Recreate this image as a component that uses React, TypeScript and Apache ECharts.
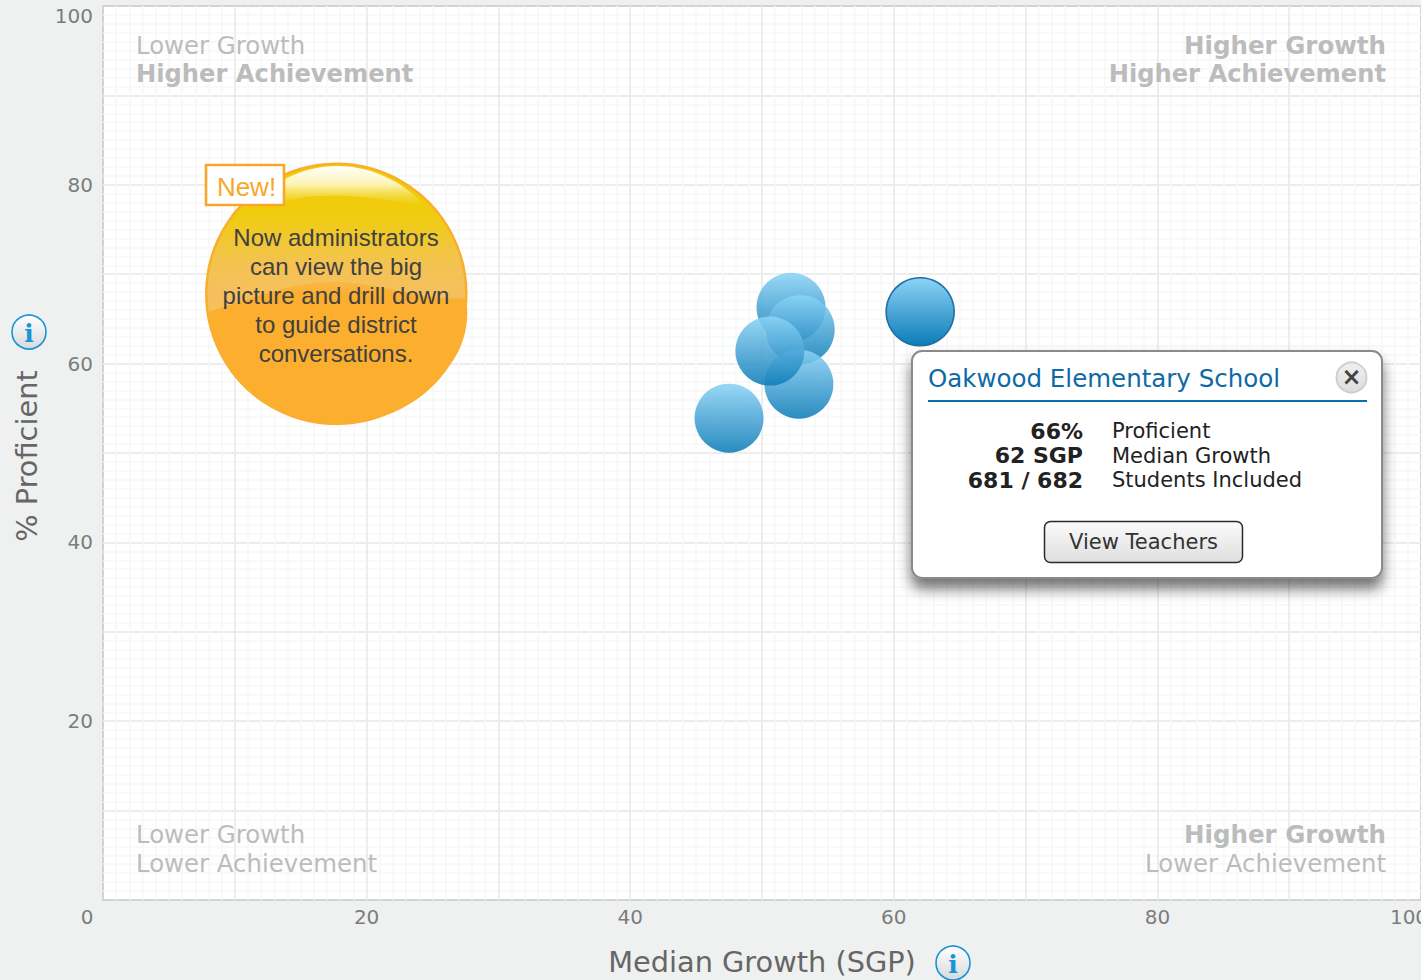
import React, { useEffect, useRef } from "react";
import * as echarts from "echarts";

const FONT = '"DejaVu Sans", sans-serif';
const LIGHT_FONT = '"Liberation Sans", Roboto, sans-serif';

// [median growth SGP, % proficient]
const otherSchools = [
  [52.2, 66.3],
  [52.9, 63.8],
  [52.8, 57.7],
  [50.6, 61.4],
  [47.5, 53.9],
];
const selectedSchool = [[62, 65.8]];
const calloutBubble = [[17.7, 67.8]];
const calloutLines = [
  "Now administrators",
  "can view the big",
  "picture and drill down",
  "to guide district",
  "conversations.",
];
const popupTitle = "Oakwood Elementary School";
const popupValues = ["66%", "62 SGP", "681 / 682"];
const popupLabels = ["Proficient", "Median Growth", "Students Included"];

echarts.graphic.registerShape(
  "bubbleWave",
  echarts.graphic.extendPath(
    "M208,312 C250,300 290,281 337,282 C385,283 425,302 466,298 C470,320 465,345 450,365 C425,403 385,423 337,423 C285,423 240,397 219,352 C214,341 210,326 208,312 Z",
    {}
  )
);
echarts.graphic.registerShape(
  "bubbleGloss",
  echarts.graphic.extendPath(
    "M245,219 C262,182 305,166 337,166 C375,166 408,185 426,208 C385,198 340,192 300,198 C278,202 262,213 245,219 Z",
    {}
  )
);

const lg = (stops: [number, string][]) =>
  new echarts.graphic.LinearGradient(
    0,
    0,
    0,
    1,
    stops.map(([offset, color]) => ({ offset, color }))
  );

const txt = (
  x: number,
  y: number,
  text: string,
  fontSize: number,
  fill: string,
  extra: any = {}
) => ({
  type: "text",
  x,
  y,
  z: 100,
  silent: true,
  style: {
    text,
    fontSize,
    fill,
    fontFamily: FONT,
    textVerticalAlign: "middle",
    verticalAlign: "middle",
    align: "left",
    ...extra,
  },
});

const infoIcon = (cx: number, cy: number) => ({
  type: "group",
  z: 100,
  children: [
    {
      type: "circle",
      z: 100,
      shape: { cx, cy, r: 17 },
      style: {
        fill: lg([
          [0, "#ffffff"],
          [1, "#d6dadc"],
        ]),
        stroke: "#1a94d6",
        lineWidth: 1.6,
      },
    },
    txt(cx, cy + 1, "i", 25, "#1a94d6", {
      align: "center",
      fontFamily: '"DejaVu Serif", serif',
      fontWeight: "bold",
    }),
  ],
});

export default function App() {
  const ref = useRef<HTMLDivElement>(null);
  useEffect(() => {
    const chart = echarts.init(ref.current!, undefined, { renderer: "svg" });
    const bubbleFill = lg([
      [0, "#8bd4f6"],
      [0.5, "#4da6d6"],
      [1, "#0c7db6"],
    ]);
    const splitLine = {
      show: true,
      showMinLine: false,
      showMaxLine: false,
      lineStyle: { color: "#eceeee", width: 2 },
    };
    const minorSplitLine = { show: true, lineStyle: { color: "#f6f8f8", width: 1.5 } };
    const fmt = (v: number) => (v % 20 === 0 && v !== 0 ? String(v) : "");
    const tickRich = { fontSize: 20, color: "#7b7d7d", fontFamily: FONT };
    chart.setOption({
      animation: false,
      backgroundColor: "#eff1f0",
      textStyle: { fontFamily: FONT },
      grid: {
        left: 103,
        top: 6,
        width: 1318,
        height: 894,
        show: true,
        containLabel: false,
        outerBoundsMode: "none",
        backgroundColor: "#ffffff",
        borderColor: "#d2d4d4",
        borderWidth: 2,
      },
      xAxis: {
        type: "value",
        min: 0,
        max: 100,
        interval: 10,
        name: "Median Growth (SGP)",
        nameLocation: "middle",
        nameGap: 47,
        nameTextStyle: { fontSize: 28.8, color: "#666", fontFamily: FONT },
        axisLine: { show: false },
        axisTick: { show: false },
        minorTick: { show: false, splitNumber: 10 },
        splitLine,
        minorSplitLine,
        axisLabel: {
          show: true,
          margin: 7,
          fontSize: 20,
          color: "#7b7d7d",
          fontFamily: FONT,
          showMinLabel: true,
          showMaxLabel: true,
          hideOverlap: false,
          formatter: (v: number) =>
            v === 0 ? "{z|0}" : v === 100 ? "{h|100}" : fmt(v),
          rich: {
            z: { ...tickRich, padding: [0, 32, 0, 0] },
            h: { ...tickRich, padding: [0, 24, 0, 0] },
          },
        },
      },
      yAxis: {
        type: "value",
        min: 0,
        max: 100,
        interval: 10,
        name: "% Proficient",
        nameLocation: "middle",
        nameGap: 62,
        nameTextStyle: { fontSize: 28.8, color: "#666", fontFamily: FONT, padding: [0, 6, 0, 0] },
        axisLine: { show: false },
        axisTick: { show: false },
        minorTick: { show: false, splitNumber: 10 },
        splitLine,
        minorSplitLine,
        axisLabel: {
          show: true,
          margin: 10,
          fontSize: 20,
          color: "#7b7d7d",
          fontFamily: FONT,
          verticalAlignMaxLabel: "top",
          formatter: fmt,
        },
      },
      series: [
        {
          type: "scatter",
          name: "Callout",
          data: calloutBubble,
          symbolSize: 260,
          z: 2,
          silent: true,
          itemStyle: {
            opacity: 1,
            borderColor: "#f9ae2c",
            borderWidth: 2.5,
            color: lg([
              [0, "#f0cc00"],
              [0.2, "#f0cc10"],
              [0.38, "#f3c350"],
              [0.5, "#f6bf5e"],
              [1, "#f6bf5e"],
            ]),
          },
        },
        {
          type: "scatter",
          name: "Schools",
          data: otherSchools,
          symbolSize: 69,
          z: 3,
          silent: true,
          itemStyle: { color: bubbleFill, opacity: 0.88 },
        },
        {
          type: "scatter",
          name: "Selected school",
          data: selectedSchool,
          symbolSize: 68,
          z: 3,
          silent: true,
          itemStyle: {
            color: bubbleFill,
            opacity: 1,
            borderColor: "#1c6ea6",
            borderWidth: 1.6,
          },
        },
      ],
      graphic: [
        {
          type: "bubbleWave",
          z: 50,
          silent: true,
          style: {
            fill: lg([
              [0, "rgba(252,174,46,0.45)"],
              [0.09, "rgba(252,174,46,1)"],
              [1, "rgba(252,174,46,1)"],
            ]),
          },
        },
        {
          type: "bubbleGloss",
          z: 51,
          silent: true,
          style: {
            fill: lg([
              [0, "rgba(255,255,255,1)"],
              [0.35, "rgba(255,250,210,0.85)"],
              [0.75, "rgba(238,204,0,0.4)"],
              [1, "rgba(238,204,0,0.2)"],
            ]),
          },
        },
        ...calloutLines.map((line, i) =>
          txt(336, 237 + i * 29.2, line, 24, "#404040", {
            align: "center",
            fontFamily: LIGHT_FONT,
          })
        ),
        {
          type: "rect",
          z: 100,
          shape: { x: 206, y: 165, width: 78, height: 40 },
          style: { fill: "#ffffff", stroke: "#f9a72a", lineWidth: 2.6 },
        },
        txt(246.5, 187, "New!", 26, "#f9a72a", {
          align: "center",
          fontFamily: LIGHT_FONT,
        }),

        txt(136, 45, "Lower Growth", 24.4, "#bcbcbc"),
        txt(136, 74, "Higher Achievement", 24.2, "#bcbcbc", { fontWeight: "bold" }),
        txt(1386, 45, "Higher Growth", 24.5, "#bcbcbc", { align: "right", fontWeight: "bold" }),
        txt(1386, 74, "Higher Achievement", 24.2, "#bcbcbc", { align: "right", fontWeight: "bold" }),
        txt(136, 834, "Lower Growth", 24.4, "#bcbcbc"),
        txt(136, 863, "Lower Achievement", 24.4, "#bcbcbc"),
        txt(1386, 834, "Higher Growth", 24.5, "#bcbcbc", { align: "right", fontWeight: "bold" }),
        txt(1386, 863, "Lower Achievement", 24.4, "#bcbcbc", { align: "right" }),

        infoIcon(29, 332),
        infoIcon(953, 963),

        {
          type: "rect",
          z: 100,
          shape: { x: 912, y: 351, width: 470, height: 227, r: 10 },
          style: {
            fill: "#ffffff",
            stroke: "#8a8a8a",
            lineWidth: 2,
            shadowBlur: 14,
            shadowOffsetX: 0,
            shadowOffsetY: 10,
            shadowColor: "rgba(0,0,0,0.55)",
          },
        },
        txt(928, 378.5, popupTitle, 24.5, "#0e6aa5"),
        {
          type: "line",
          z: 100,
          shape: { x1: 928, y1: 401, x2: 1367, y2: 401 },
          style: { stroke: "#0f6dab", lineWidth: 2 },
        },
        {
          type: "circle",
          z: 100,
          shape: { cx: 1351.5, cy: 377.5, r: 15 },
          style: {
            fill: lg([
              [0, "#f0f0f0"],
              [1, "#dcdcdc"],
            ]),
            stroke: "#cfcfcf",
            lineWidth: 2,
          },
        },
        txt(1351.5, 377, "×", 24, "#444444", { align: "center", fontWeight: "bold" }),
        ...popupValues.map((v, i) =>
          txt(1083, 431 + i * 24.5, v, 22, "#222222", { align: "right", fontWeight: "bold" })
        ),
        ...popupLabels.map((v, i) => txt(1112, 431 + i * 24.5, v, 21, "#222222")),
        {
          type: "rect",
          z: 100,
          shape: { x: 1044.5, y: 521.5, width: 198, height: 41, r: 6 },
          style: {
            fill: lg([
              [0, "#fbfbfb"],
              [1, "#dedede"],
            ]),
            stroke: "#2a2a2a",
            lineWidth: 1.5,
          },
        },
        txt(1143.5, 541.5, "View Teachers", 21, "#333333", { align: "center" }),
      ],
    });
    return () => chart.dispose();
  }, []);
  return (
    <div
      ref={ref}
      style={{ position: "absolute", left: 0, top: 0, width: 1421, height: 980, overflow: "hidden" }}
    />
  );
}
